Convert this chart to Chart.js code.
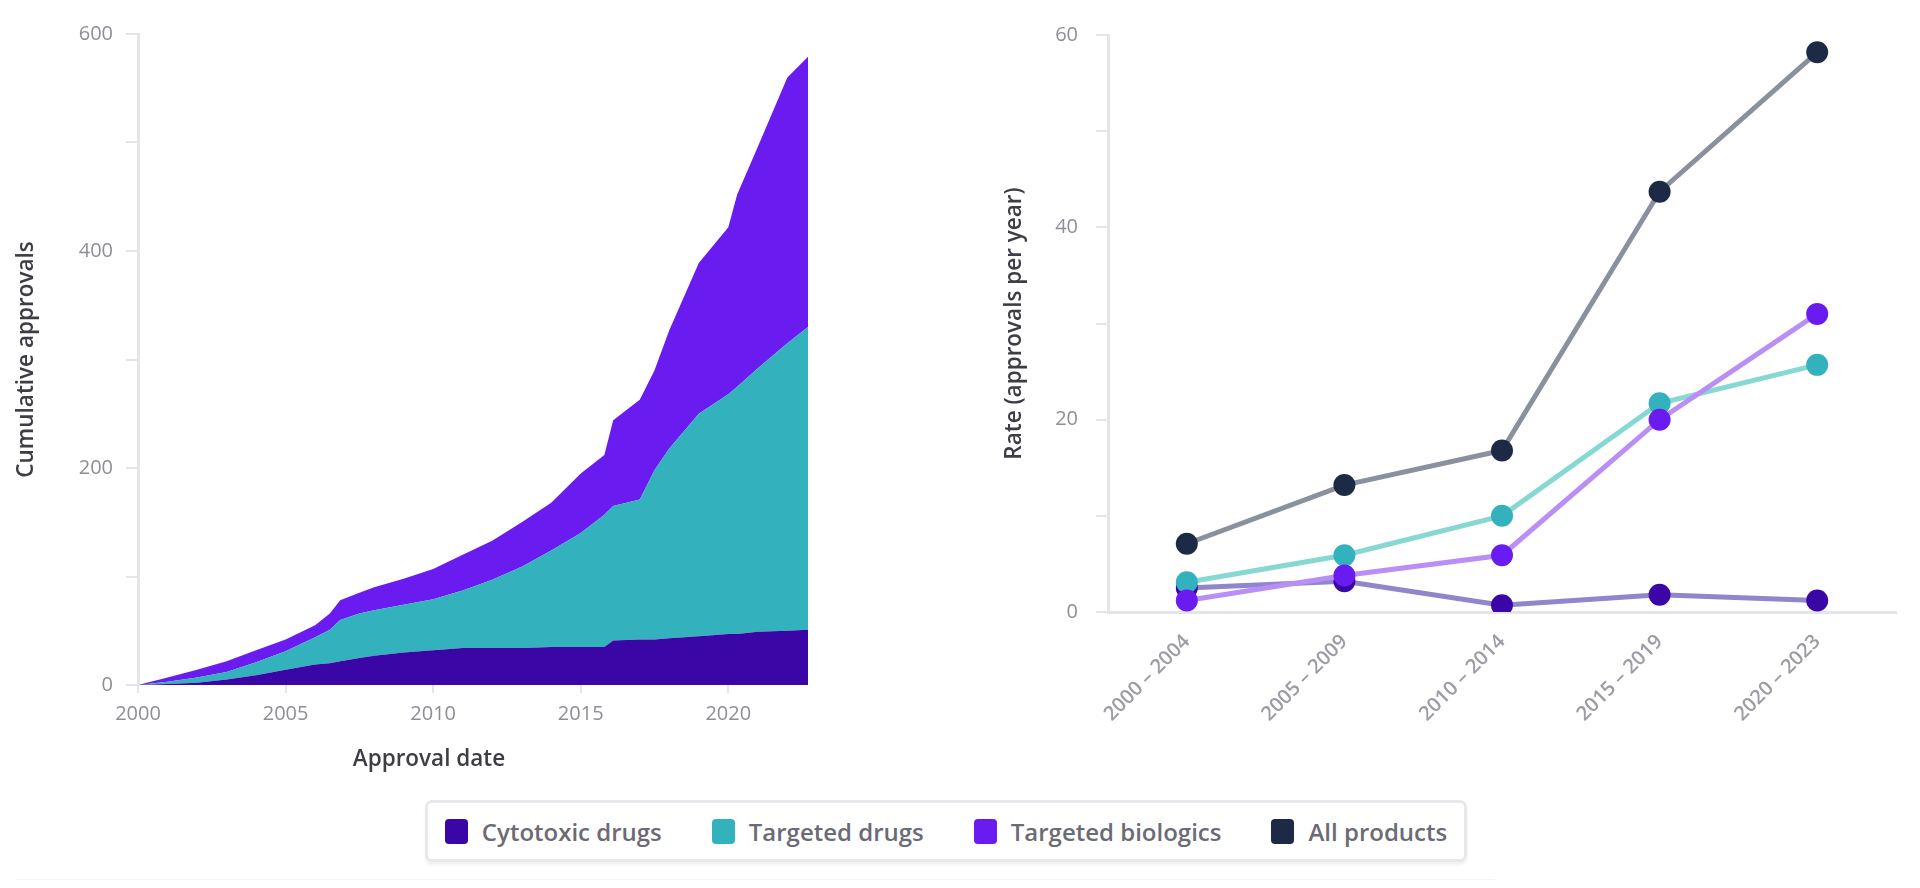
<!DOCTYPE html>
<html>
<head>
<meta charset="utf-8">
<script src="https://cdn.jsdelivr.net/npm/chart.js@4.4.1/dist/chart.umd.min.js"></script>
<style>
  html, body { margin: 0; padding: 0; background: #fff; }
  body { width: 1920px; height: 888px; position: relative; overflow: hidden; font-family: "Open Sans", sans-serif; }
  .wrap { position: absolute; }
  #left-wrap { left: 0; top: 0; width: 840px; height: 745px; }
  #right-wrap { left: 960px; top: 0; width: 960px; height: 745px; }
  #x-title { position: absolute; left: 309px; width: 240px; top: 742px; text-align: center; font-size: 22.5px; color: #3d3d46; font-weight: 600; }
  #legend {
    position: absolute; left: 425px; top: 800px; width: 1042px; height: 62px; box-sizing: border-box;
    border: 3px solid #e8e8ec; border-radius: 7px; box-shadow: 0 3px 3px rgba(0,0,0,0.06);
    display: flex; align-items: center; justify-content: center; gap: 50px;
  }
  .item { display: flex; align-items: center; font-size: 24px; color: #6b6b75; font-weight: 600; }
  .swatch { width: 23px; height: 25px; border-radius: 4px; margin-right: 14px; }
  #rule { position: absolute; left: 15px; width: 1480px; top: 879px; height: 1px; background: #f4f4f6; }
</style>
</head>
<body>
<div class="wrap" id="left-wrap"><canvas id="chart-cumulative"></canvas></div>
<div class="wrap" id="right-wrap"><canvas id="chart-rate"></canvas></div>
<div id="x-title">Approval date</div>
<div id="legend"></div>
<div id="rule"></div>
<script>
// --- Data ---
const seriesNames = ['Cytotoxic drugs', 'Targeted drugs', 'Targeted biologics', 'All products'];
const seriesColors = ['#3a06a6', '#33b1bd', '#6a1cf0', '#1c2a45'];
const lineColors = ['#8f86cc', '#86d8d2', '#b98ef6', '#8a919e'];

// cumulative approvals (left)
const approvalYears = [2000, 2001, 2002, 2003, 2004, 2005, 2006, 2006.5, 2006.85, 2007.5, 2008, 2009, 2010, 2011, 2012, 2013, 2014, 2015, 2015.8, 2016.1, 2017, 2017.5, 2018, 2019, 2020, 2020.3, 2021, 2022, 2022.7];
const cytotoxicCum = [0, 1, 2, 5, 9, 14, 19, 20, 22, 25, 27, 30, 32, 34, 34, 34, 35, 35, 35, 41, 42, 42, 43, 45, 47, 47, 49, 50, 51];
const targetedDrugsCum = [0, 2, 5, 7, 12, 17, 25, 31, 38, 41, 42, 44, 47, 53, 63, 75, 89, 105, 122, 124, 129, 156, 175, 205, 221, 228, 243, 265, 279];
const targetedBiologicsCum = [0, 4, 7, 10, 11, 11, 11, 15, 18, 19, 21, 24, 28, 33, 36, 41, 44, 55, 55, 79, 92, 92, 109, 139, 154, 177, 204, 245, 249];
const cumulativeTicks = [2000, 2005, 2010, 2015, 2020];

// approvals per year (right)
const periods = ['2000 \u2013 2004', '2005 \u2013 2009', '2010 \u2013 2014', '2015 \u2013 2019', '2020 \u2013 2023'];
const cytotoxicRate = [2.5, 3.2, 0.7, 1.8, 1.2];
const targetedDrugsRate = [3.1, 5.9, 10.0, 21.7, 25.7];
const targetedBiologicsRate = [1.2, 3.8, 5.9, 20.0, 31.0];
const allProductsRate = [7.1, 13.2, 16.8, 43.7, 58.2];

const axisGray = '#e4e4e9';
const tickGray = '#8e8e98';
const titleGray = '#3d3d46';
const tickFont = { family: 'Open Sans', size: 20 };
const titleFont = { family: 'Open Sans', size: 22.5, weight: '600' };

// --- Legend ---
const legend = document.getElementById('legend');
seriesNames.forEach((name, i) => {
    const el = document.createElement('div');
    el.className = 'item';
    el.innerHTML = `<span class="swatch" style="background:${seriesColors[i]}"></span>${name}`;
    legend.appendChild(el);
});

function pts(xs, ys) {
    return xs.map((x, i) => ({ x, y: ys[i] }));
}

// --- Cumulative chart ---
new Chart(document.getElementById('chart-cumulative').getContext('2d'), {
    type: 'line',
    data: {
        datasets: [
            { label: seriesNames[0], data: pts(approvalYears, cytotoxicCum), backgroundColor: seriesColors[0], fill: 'origin' },
            { label: seriesNames[1], data: pts(approvalYears, targetedDrugsCum), backgroundColor: seriesColors[1], fill: '-1' },
            { label: seriesNames[2], data: pts(approvalYears, targetedBiologicsCum), backgroundColor: seriesColors[2], fill: '-1' }
        ].map(d => Object.assign(d, { borderWidth: 0, pointRadius: 0, tension: 0 }))
    },
    options: {
        responsive: true,
        maintainAspectRatio: false,
        animation: false,
        layout: { padding: { top: 34, right: 32, bottom: 0, left: 0 } },
        plugins: { legend: { display: false }, tooltip: { enabled: false } },
        scales: {
            x: {
                type: 'linear',
                min: 2000,
                max: 2022.7,
                afterBuildTicks: axis => { axis.ticks = cumulativeTicks.map(v => ({ value: v })); },
                afterFit: axis => { axis.height = 60; },
                ticks: { color: tickGray, font: tickFont, padding: 9, maxRotation: 0, callback: v => String(v) },
                grid: { drawOnChartArea: false, color: axisGray, lineWidth: 2, tickLength: 8 },
                border: { display: false }
            },
            y: {
                stacked: true,
                min: 0,
                max: 600,
                afterFit: axis => { axis.width = 138; },
                ticks: { stepSize: 100, color: tickGray, font: tickFont, padding: 13, callback: v => (v % 200 === 0 ? v : '') },
                grid: { drawOnChartArea: false, color: axisGray, lineWidth: 2, tickLength: 12 },
                border: { color: axisGray, width: 3 },
                title: { display: true, text: 'Cumulative approvals', color: titleGray, font: titleFont, padding: { top: 13, bottom: 0 } }
            }
        }
    }
});

// --- Rate chart ---
const rateSeries = [cytotoxicRate, targetedDrugsRate, targetedBiologicsRate, allProductsRate];
const drawOrder = [3, 2, 1, 4]; // biologics on top, cytotoxic under the others
new Chart(document.getElementById('chart-rate').getContext('2d'), {
    type: 'line',
    data: {
        labels: periods,
        datasets: rateSeries.map((vals, i) => ({
            label: seriesNames[i],
            data: vals,
            order: drawOrder[i],
            borderColor: lineColors[i],
            borderWidth: 5,
            pointRadius: 11,
            pointBackgroundColor: seriesColors[i],
            pointBorderWidth: 0,
            tension: 0
        }))
    },
    options: {
        responsive: true,
        maintainAspectRatio: false,
        animation: false,
        layout: { padding: { top: 35, right: 24, bottom: 0, left: 0 } },
        plugins: { legend: { display: false }, tooltip: { enabled: false } },
        scales: {
            x: {
                offset: true,
                afterFit: axis => { axis.height = 133; },
                ticks: { color: '#9c9ca6', font: { family: 'Open Sans', size: 20, weight: '600' }, minRotation: 45, maxRotation: 45, padding: 10 },
                grid: { display: false },
                border: { color: axisGray, width: 3 }
            },
            y: {
                min: 0,
                max: 60,
                afterFit: axis => { axis.width = 148; },
                ticks: { stepSize: 10, color: tickGray, font: tickFont, padding: 18, callback: v => (v % 20 === 0 ? v : '') },
                grid: { drawOnChartArea: false, color: axisGray, lineWidth: 2, tickLength: 12 },
                border: { color: axisGray, width: 3 },
                title: { display: true, text: 'Rate (approvals per year)', color: titleGray, font: titleFont, padding: { top: 41, bottom: 0 } }
            }
        }
    }
});
</script>
</body>
</html>
